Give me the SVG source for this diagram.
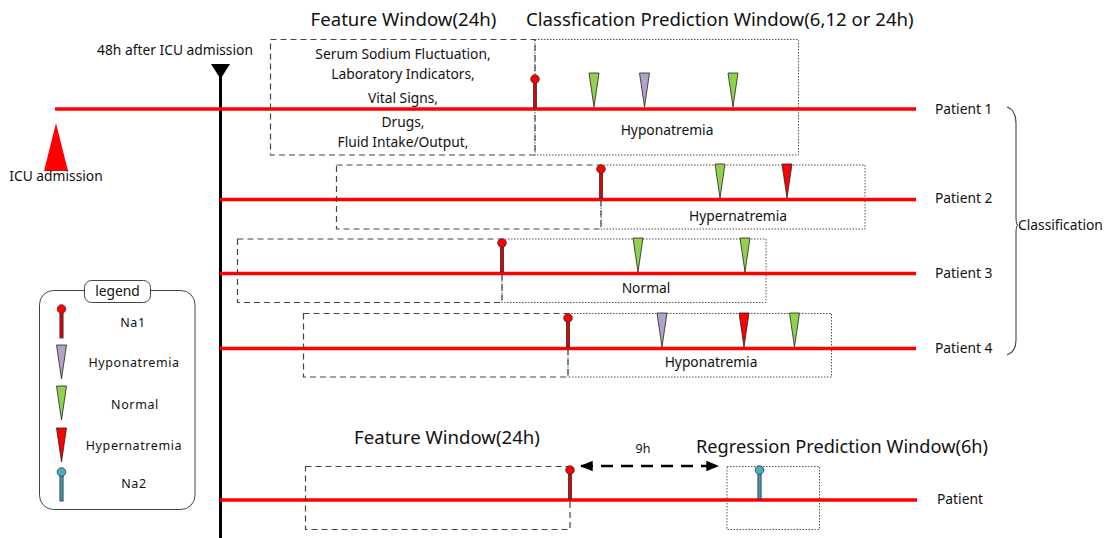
<svg xmlns="http://www.w3.org/2000/svg" width="1114" height="538" viewBox="0 0 1114 538">
<style>
text{font-family:"Noto Sans","Open Sans","Liberation Sans",sans-serif;fill:#111;}
.t18{font-size:18.6px;}
.t13{font-size:13.8px;}
.lg{font-size:12.5px;letter-spacing:0.6px;}
.mid{text-anchor:middle;}
.red{stroke:#FF0000;stroke-width:3.5;fill:none;}
.fw{fill:none;stroke:#444;stroke-width:1.2;stroke-dasharray:6,4;}
.pw{fill:none;stroke:#555;stroke-width:1;stroke-dasharray:1.5,1.5;}
.tri{stroke:#222;stroke-width:0.8;}
</style>
<defs>
<g id="na1">
<rect x="-1.6" y="-26" width="3.2" height="26" fill="#E00000" stroke="#333" stroke-width="0.8"/>
<circle cx="0" cy="-29" r="4.3" fill="#FF0000" stroke="#333" stroke-width="0.8"/>
</g>
<g id="na2">
<rect x="-1.6" y="-26" width="3.2" height="26" fill="#3F97B5" stroke="#333" stroke-width="0.8"/>
<circle cx="0" cy="-29" r="4.3" fill="#4BACC6" stroke="#333" stroke-width="0.8"/>
</g>
<polygon id="tg" class="tri" points="-5,-35 5,-35 0,-1" fill="#92D050"/>
<polygon id="tp" class="tri" points="-5,-35 5,-35 0,-1" fill="#B3A2C7"/>
<polygon id="tr" class="tri" points="-5,-35 5,-35 0,-1" fill="#FF0000"/>
<marker id="ah" viewBox="0 0 10 10" refX="9" refY="5" markerWidth="5" markerHeight="5" orient="auto-start-reverse" markerUnits="strokeWidth">
<path d="M0,1 L10,5 L0,9 Z" fill="#000"/>
</marker>
</defs>

<g id="titles">
<text class="t18 mid" x="403.5" y="26">Feature Window(24h)</text>
<text class="t18" x="526" y="26">Classfication Prediction Window(6,12 or 24h)</text>
</g>

<g id="icu-admission">
<polygon points="56,123 68,171 44,171" fill="#FF0000"/>
<text class="t13 mid" x="56" y="181">ICU admission</text>
</g>

<g id="axis-48h">
<line x1="220.5" y1="66" x2="220.5" y2="538" stroke="#000" stroke-width="3"/>
<polygon points="211,64 230,64 220.5,79" fill="#000"/>
<text class="t13 mid" x="175" y="55">48h after ICU admission</text>
</g>

<g id="patient1">
<line class="red" x1="55" y1="109" x2="916" y2="109"/>
<rect class="fw" x="270.5" y="39.5" width="264.5" height="115.5"/>
<rect class="pw" x="535" y="39.5" width="263.5" height="115.5"/>
<text class="t13 mid" x="403" y="59">Serum Sodium Fluctuation,</text>
<text class="t13 mid" x="403" y="79">Laboratory Indicators,</text>
<text class="t13 mid" x="403" y="103">Vital Signs,</text>
<text class="t13 mid" x="403" y="127">Drugs,</text>
<text class="t13 mid" x="403" y="147">Fluid Intake/Output,</text>
<use href="#na1" x="535" y="108"/>
<use href="#tg" x="594" y="108"/>
<use href="#tp" x="644.5" y="108"/>
<use href="#tg" x="733" y="108"/>
<text class="t13 mid" x="667" y="135">Hyponatremia</text>
<text class="t13" x="935" y="114">Patient 1</text>
</g>

<g id="patient2">
<line class="red" x1="220" y1="199.5" x2="916" y2="199.5"/>
<rect class="fw" x="336.5" y="165" width="264.5" height="64"/>
<rect class="pw" x="601" y="165" width="264" height="64"/>
<use href="#na1" x="601" y="198"/>
<use href="#tg" x="720" y="199"/>
<use href="#tr" x="787" y="199"/>
<text class="t13 mid" x="738" y="221">Hypernatremia</text>
<text class="t13" x="935" y="203">Patient 2</text>
</g>

<g id="patient3">
<line class="red" x1="220" y1="273.5" x2="916" y2="273.5"/>
<rect class="fw" x="237.5" y="239" width="264.5" height="63.5"/>
<rect class="pw" x="502" y="239" width="264" height="63.5"/>
<use href="#na1" x="502" y="272"/>
<use href="#tg" x="638" y="273"/>
<use href="#tg" x="745" y="273"/>
<text class="t13 mid" x="646" y="293">Normal</text>
<text class="t13" x="935" y="278">Patient 3</text>
</g>

<g id="patient4">
<line class="red" x1="220" y1="348.5" x2="916" y2="348.5"/>
<rect class="fw" x="303.5" y="313.5" width="264.5" height="63.5"/>
<rect class="pw" x="568" y="313.5" width="263.5" height="63.5"/>
<use href="#na1" x="568" y="347"/>
<use href="#tp" x="662" y="348"/>
<use href="#tr" x="744" y="348"/>
<use href="#tg" x="794.5" y="348"/>
<text class="t13 mid" x="711" y="367">Hyponatremia</text>
<text class="t13" x="935" y="353">Patient 4</text>
</g>

<g id="classification">
<path d="M1007,107 Q1016,110 1016,124 L1016,216 Q1016,225 1018,225 Q1016,225 1016,234 L1016,340 Q1016,352 1007,355" fill="none" stroke="#444" stroke-width="1.1"/>
<text class="t13" x="1018" y="230">Classification</text>
</g>

<g id="regression-patient">
<line class="red" x1="220" y1="500" x2="917" y2="500"/>
<rect class="fw" x="305.5" y="466.5" width="264.5" height="63"/>
<rect class="pw" x="727" y="466.5" width="92.5" height="63"/>
<use href="#na1" x="570" y="499"/>
<use href="#na2" x="759.5" y="499"/>
<text class="t18 mid" x="447" y="444">Feature Window(24h)</text>
<text class="t18" x="696" y="453" style="font-size:18.2px">Regression Prediction Window(6h)</text>
<text class="t13" x="937" y="504">Patient</text>
</g>

<g id="connectors">
<line x1="581" y1="466" x2="718" y2="466" stroke="#000" stroke-width="2.6" stroke-dasharray="12,8" marker-start="url(#ah)" marker-end="url(#ah)"/>
<text class="mid" x="643" y="453" style="font-size:12.5px">9h</text>
</g>

<g id="legend">
<rect x="39.5" y="290.5" width="155.5" height="219" rx="14" fill="#fff" stroke="#444" stroke-width="1"/>
<rect x="84.5" y="280.5" width="66" height="22" rx="7" fill="#fff" stroke="#444" stroke-width="1"/>
<text class="t13 mid" x="117.5" y="296">legend</text>
<use href="#na1" x="61.5" y="338"/>
<text class="lg mid" x="133" y="327">Na1</text>
<use href="#tp" x="61.5" y="380"/>
<text class="lg mid" x="134" y="367">Hyponatremia</text>
<use href="#tg" x="61.5" y="421"/>
<text class="lg mid" x="135" y="409">Normal</text>
<use href="#tr" x="61.5" y="463"/>
<text class="lg mid" x="134" y="450">Hypernatremia</text>
<use href="#na2" x="61.5" y="501"/>
<text class="lg mid" x="134" y="488">Na2</text>
</g>
</svg>
